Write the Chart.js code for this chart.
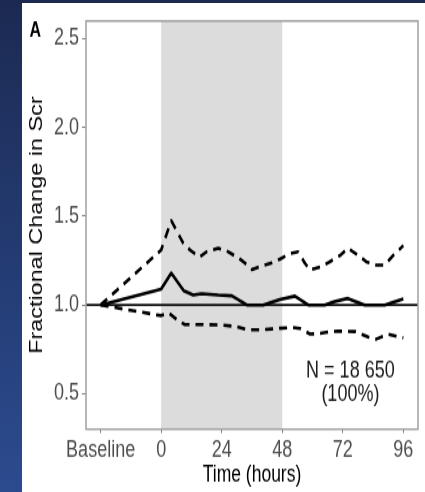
<!DOCTYPE html>
<html>
<head>
<meta charset="utf-8">
<script src="https://cdn.jsdelivr.net/npm/chart.js@4.4.1/dist/chart.umd.min.js"></script>
<style>
html,body{margin:0;padding:0;width:425px;height:492px;overflow:hidden;
  background:linear-gradient(to bottom,#1c2a52 0%,#243c74 55%,#2c4b8f 100%);}
#panel{position:absolute;left:22px;top:3px;width:403px;height:489px;background:#ffffff;}
#c{position:absolute;left:0;top:0;}
</style>
</head>
<body>
<div id="panel"><canvas id="c" width="403" height="376" style="width:403px;height:489px"></canvas></div>
<script>
// ---- data ----
const meanTimes  = [-24, 0, 4, 9, 12.7, 16, 22.6, 28, 34, 40.4, 47, 53, 58.3, 64.8, 68.8, 74, 80.7, 88.6, 96];
const meanValues = [1.0, 1.09, 1.18, 1.08, 1.056, 1.064, 1.056, 1.052, 1.0, 1.0, 1.03, 1.05, 1.0, 1.0, 1.02, 1.037, 1.0, 1.0, 1.035];

const upperTimes  = [-24, 0, 4, 8.7, 11.4, 15.3, 18, 22.6, 26, 30, 32.5, 36, 39, 44, 47, 51, 54.3, 57, 59, 63.5, 67, 71, 74, 78, 81.3, 85.3, 88.6, 92, 96];
const upperValues = [1.0, 1.31, 1.475, 1.35, 1.31, 1.27, 1.30, 1.32, 1.305, 1.27, 1.245, 1.20, 1.215, 1.238, 1.258, 1.29, 1.30, 1.235, 1.197, 1.216, 1.245, 1.28, 1.32, 1.28, 1.244, 1.225, 1.225, 1.28, 1.335];

const lowerTimes  = [-24, 0, 3, 7.4, 9.4, 16.6, 24, 30, 34, 39, 44, 46.3, 52, 55, 59, 63, 67, 70, 77, 82, 85.3, 90, 96];
const lowerValues = [1.0, 0.94, 0.955, 0.905, 0.89, 0.89, 0.887, 0.878, 0.86, 0.86, 0.865, 0.868, 0.874, 0.868, 0.836, 0.84, 0.85, 0.853, 0.85, 0.82, 0.808, 0.835, 0.815];

const xTickValues = [-24, 0, 24, 48, 72, 96];
const xTickLabels = ['Baseline', '0', '24', '48', '72', '96'];
const yTickValues = [0.5, 1.0, 1.5, 2.0, 2.5];

const shadeStart = 0, shadeEnd = 48;   // shaded period (hours)
const refValue = 1.0;                  // reference line
const noteLines = ['N = 18 650', '(100%)'];
const noteX = 75;
const noteY = [0.59, 0.46];
const panelLabel = 'A';

const toPoints = (ts, vs) => ts.map((t, i) => ({x: t, y: vs[i]}));

Chart.defaults.font.family = "'Liberation Sans', Arial, Helvetica, sans-serif";

const decor = {
  id: 'decor',
  beforeDatasetsDraw(chart) {
    const {ctx, chartArea: a, scales: {x, y}} = chart;
    ctx.save();
    ctx.fillStyle = '#dcdcdc';
    const x0 = x.getPixelForValue(shadeStart), x1 = x.getPixelForValue(shadeEnd);
    ctx.fillRect(x0, a.top, x1 - x0, a.bottom - a.top);
    const yr = y.getPixelForValue(refValue);
    ctx.strokeStyle = '#111';
    ctx.lineWidth = 1.7;
    ctx.beginPath(); ctx.moveTo(a.left, yr); ctx.lineTo(a.right, yr); ctx.stroke();
    ctx.restore();
  },
  afterDraw(chart) {
    const {ctx, chartArea: a, scales: {x, y}} = chart;
    ctx.save();
    ctx.strokeStyle = '#a0a0a0';
    ctx.lineWidth = 1.5;
    ctx.strokeRect(a.left, a.top, a.right - a.left, a.bottom - a.top);
    ctx.fillStyle = '#000';
    ctx.font = "bold 16px 'Liberation Sans', Arial, sans-serif";
    ctx.textAlign = 'left';
    ctx.textBaseline = 'alphabetic';
    ctx.fillText(panelLabel, 7.5, 26.2);
    ctx.font = "18px 'Liberation Sans', Arial, sans-serif";
    ctx.fillStyle = '#1a1a1a';
    ctx.textAlign = 'center';
    noteLines.forEach((t, i) => ctx.fillText(t, x.getPixelForValue(noteX), y.getPixelForValue(noteY[i])));
    ctx.restore();
  }
};

const lineStyle = {showLine: true, borderColor: '#000', backgroundColor: '#000', borderWidth: 2.6,
  pointRadius: 0, pointHoverRadius: 0, fill: false, tension: 0, borderJoinStyle: 'round'};

new Chart(document.getElementById('c'), {
  type: 'scatter',
  data: {
    datasets: [
      Object.assign({label: 'Mean', data: toPoints(meanTimes, meanValues)}, lineStyle),
      Object.assign({label: 'Upper', data: toPoints(upperTimes, upperValues), borderDash: [8, 6]}, lineStyle),
      Object.assign({label: 'Lower', data: toPoints(lowerTimes, lowerValues), borderDash: [8, 6]}, lineStyle)
    ]
  },
  options: {
    responsive: false,
    animation: false,
    devicePixelRatio: 1,
    layout: {padding: {left: 0, right: 7, top: 13.85, bottom: 0}},
    plugins: {legend: {display: false}, tooltip: {enabled: false}},
    scales: {
      x: {
        type: 'linear', min: -29.8, max: 101.8,
        afterBuildTicks: s => { s.ticks = xTickValues.map(v => ({value: v})); },
        ticks: {callback: v => xTickLabels[xTickValues.indexOf(v)], color: '#4d4d4d', padding: 3,
                maxRotation: 0, autoSkip: false, font: {size: 18}},
        grid: {display: true, drawOnChartArea: false, drawTicks: true, tickLength: 3, color: '#808080'},
        border: {display: false},
        title: {display: true, text: 'Time (hours)', color: '#000', font: {size: 17.5}, padding: {top: 0, bottom: 2.7}},
        afterFit: s => { s.height = 48.3; s.paddingLeft = 0; s.paddingRight = 0; }
      },
      y: {
        type: 'linear', min: 0.3, max: 2.6,
        afterBuildTicks: s => { s.ticks = yTickValues.map(v => ({value: v})); },
        ticks: {callback: v => Number(v).toFixed(1), color: '#4d4d4d', padding: 3, font: {size: 18}},
        grid: {display: true, drawOnChartArea: false, drawTicks: true, tickLength: 4, color: '#808080'},
        border: {display: false},
        title: {display: true, text: 'Fractional Change in Scr', color: '#000', font: {size: 18}, padding: {top: 4.5, bottom: 0}},
        afterFit: s => { s.width = 64; s.paddingTop = 0; s.paddingBottom = 0; }
      }
    }
  },
  plugins: [decor]
});
</script>
</body>
</html>
